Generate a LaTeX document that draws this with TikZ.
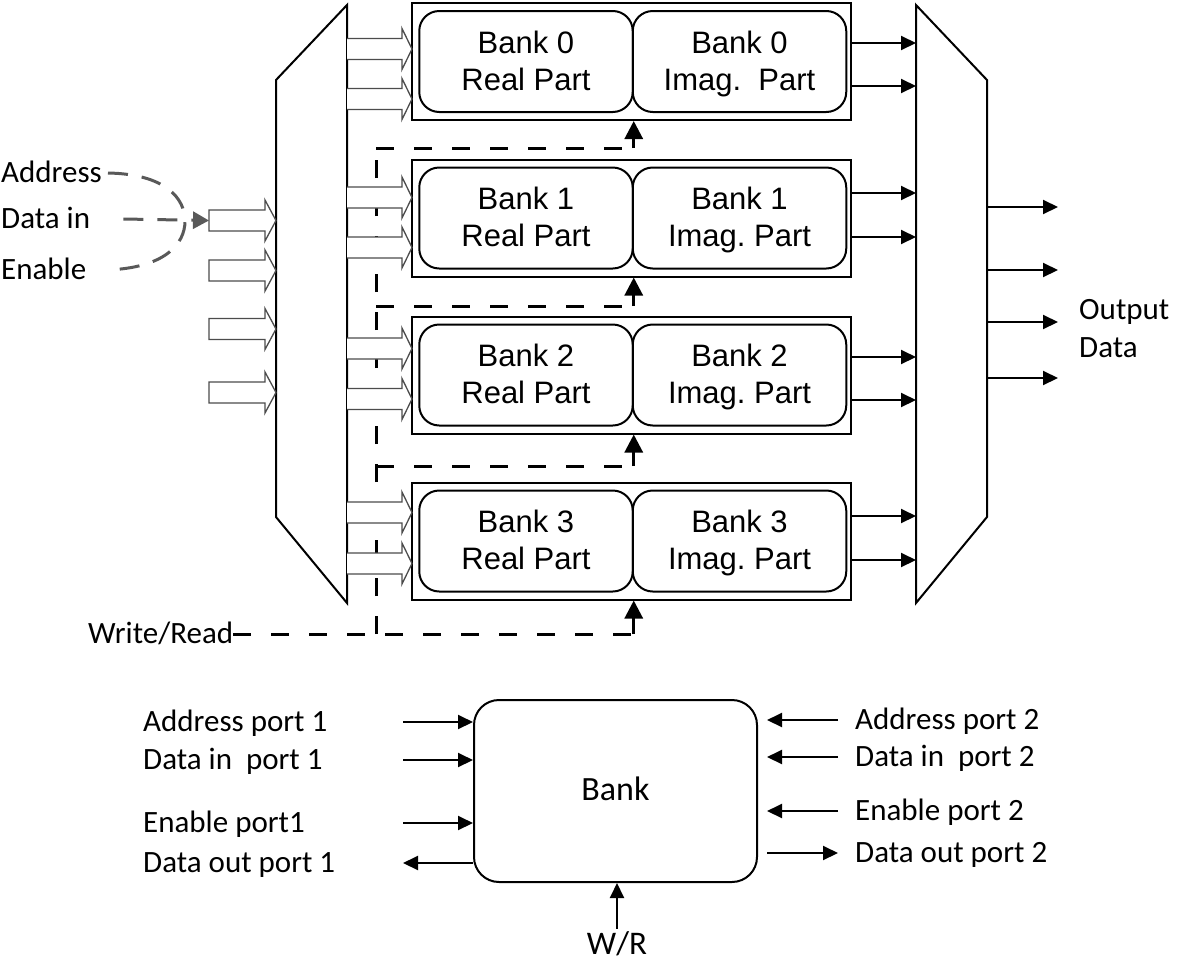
\documentclass[tikz,border=0pt]{standalone}
\usepackage{fontspec}
\setmainfont{Carlito}
\newfontfamily\arialfont{Liberation Sans}
\usetikzlibrary{arrows.meta}
\frenchspacing

\begin{document}
\begin{tikzpicture}[x=1pt,y=-1pt,
    txt/.style={inner sep=0pt,font=\fontsize{31}{36}\selectfont,text height=21pt,text depth=3pt},
    bankbox/.style={draw,line width=2pt,minimum width=439pt,minimum height=117pt},
    part/.style={draw,line width=2pt,rounded corners=20pt,minimum width=213.5pt,minimum height=101pt,
        align=center,text height=64pt,text depth=7pt,font=\arialfont\fontsize{31}{37}\selectfont},
    mux/.style={draw,line width=2pt},
    hollow/.style={draw=black!70,fill=white,line width=1.3pt},
    sig/.style={line width=2pt,-{Triangle[length=15pt,width=14pt]}},
    wrline/.style={line width=3pt,dash pattern=on 18pt off 20pt},
    wrhead/.style={line width=3pt,-{Triangle[length=18pt,width=18pt]}},
    feed/.style={draw=black!65,line width=3pt,dash pattern=on 20pt off 14pt}]
\useasboundingbox (0,0) rectangle (1200,967);

% memory banks
\foreach \i/\y in {0/61.5,1/218,2/375,3/541} {
    \node[bankbox] (b\i) at (631.5,\y) {};
    \node[part] (re\i) at (526,\y) {Bank \i\\Real Part};
    \node[part] (im\i) at (739.5,\y) {Bank \i\\Imag.\ifnum\i=0\ \fi{} Part};
}

% input and output multiplexers
\draw[mux] (276,80) -- (347,5) -- (347,603) -- (276,517) -- cycle;
\draw[mux] (916,5) -- (987,80) -- (987,517) -- (916,603) -- cycle;
\coordinate (mr) at (916,0);
\coordinate (mo) at (987,0);

% write/read control
\node[txt,anchor=base west] (wr) at (88,643) {Write/Read};
\coordinate (bus) at (376,0);
\coordinate (t0) at (376,148);
\coordinate (t1) at (376,306);
\coordinate (t2) at (376,466);
\draw[wrline] (bus |- wr.east) -- (t0);
\draw[wrline] (wr.east) -- (re3.east |- wr.east);
\draw[wrhead] (re3.east |- wr.east) -- (re3.east |- b3.south);
\foreach \i in {0,1,2} {
    \draw[wrline] (t\i) -- (t\i -| re\i.east);
    \draw[wrhead] (t\i -| re\i.east) -- (re\i.east |- b\i.south);
}

% wide arrows into the banks
\foreach \y in {49,99,197.5,247.5,348.5,399,512.5,563.5}
    \draw[hollow] (347,\y-10.5) -- (402,\y-10.5) -- (402,\y-20.5) -- (412,\y)
        -- (402,\y+20.5) -- (402,\y+10.5) -- (347,\y+10.5);

% wide arrows into the input mux
\foreach \y/\n in {220.5/1,270.5/2,329/3,392.5/4} {
    \draw[hollow] (209,\y-10.5) -- (265,\y-10.5) -- (265,\y-20.5) -- (276,\y)
        -- (265,\y+20.5) -- (265,\y+10.5) -- (209,\y+10.5) -- cycle;
    \coordinate (in\n) at (209,\y);
}

% bank outputs
\foreach \i/\ya/\yb in {0/43/86,1/193/237,2/357/400,3/516/560} {
    \draw[sig] (b\i.east |- 0,\ya) -- (mr |- 0,\ya);
    \draw[sig] (b\i.east |- 0,\yb) -- (mr |- 0,\yb);
}
\foreach \y in {207,270,322,378}
    \draw[sig] (mo |- 0,\y) -- (1058,\y);
\node[anchor=north west,inner sep=0pt,align=left,font=\fontsize{31}{38}\selectfont] (od) at (1079,299) {Output\\Data};

% input signals
\node[txt,anchor=base west] (addr) at (1,182) {Address};
\node[txt,anchor=base west] (din) at (1,228) {Data in};
\node[txt,anchor=base west] (en) at (1,279) {Enable};
\draw[feed] ([xshift=6pt]addr.east) .. controls (165,174) and (185,198) .. (185,221)
    .. controls (185,244) and (165,268) .. ([xshift=20pt]en.east);
\draw[feed,-{Triangle[length=16pt,width=17pt]}] ([xshift=33pt]din.east) -- (in1);

% single bank ports
\node[txt,font=\fontsize{34}{40}\selectfont,draw,line width=2pt,rounded corners=25pt,
    minimum width=283pt,minimum height=182pt] (bk) at (615.5,791) {Bank};
\foreach \n/\y/\t in {ap1/722/Address port 1,di1/760/Data in\ \ port 1,ep1/823/Enable port1,do1/863/Data out port 1}
    \node[txt,anchor=west] (\n) at (143,\y) {\t};
\foreach \n/\y/\t in {ap2/720/Address port 2,di2/757/Data in\ \ port 2,ep2/811/Enable port 2,do2/853/Data out port 2}
    \node[txt,anchor=west] (\n) at (855,\y) {\t};
\coordinate (lx) at (403,0);
\coordinate (rx) at (838,0);
\coordinate (rg) at (767,0);
\foreach \n in {ap1,di1,ep1}
    \draw[sig] (lx |- \n) -- (bk.west |- \n);
\draw[sig] (bk.west |- do1) -- (lx |- do1);
\foreach \n in {ap2,di2,ep2}
    \draw[sig] (rx |- \n) -- (rg |- \n);
\draw[sig] (rg |- do2) -- (rx |- do2);
\node[txt,font=\fontsize{33}{40}\selectfont,inner sep=4pt] (wrl) at (617,945) {W/R};
\draw[sig] (wrl.north) -- (wrl |- bk.south);
\end{tikzpicture}
\end{document}
